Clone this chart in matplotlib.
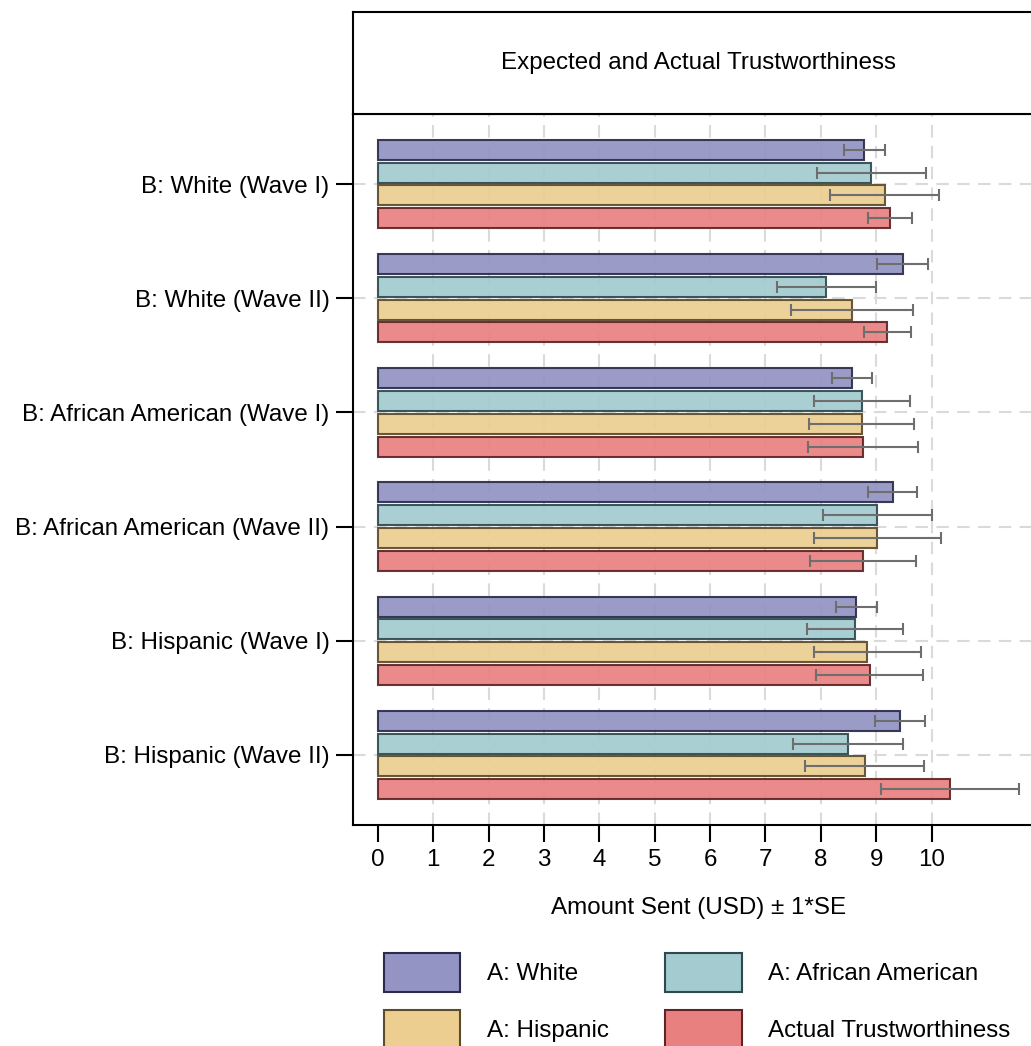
import matplotlib
matplotlib.use('Agg')
import matplotlib.pyplot as plt
import numpy as np
from matplotlib.patches import Patch

plt.rcParams['font.family'] = ['Liberation Sans', 'DejaVu Sans']

# Groups (receiver B) and series (sender A / actual)
groups = ["B: White (Wave I)", "B: White (Wave II)",
          "B: African American (Wave I)", "B: African American (Wave II)",
          "B: Hispanic (Wave I)", "B: Hispanic (Wave II)"]
series = ["A: White", "A: African American", "A: Hispanic", "Actual Trustworthiness"]

white_mean = [8.78, 9.48, 8.56, 9.30, 8.64, 9.43]
white_se = [0.37, 0.46, 0.36, 0.44, 0.37, 0.45]
afam_mean = [8.91, 8.10, 8.74, 9.02, 8.62, 8.49]
afam_se = [0.98, 0.90, 0.87, 0.99, 0.87, 1.00]
hisp_mean = [9.15, 8.56, 8.74, 9.02, 8.84, 8.79]
hisp_se = [0.98, 1.10, 0.95, 1.15, 0.96, 1.07]
actual_mean = [9.25, 9.20, 8.76, 8.76, 8.88, 10.33]
actual_se = [0.39, 0.42, 0.99, 0.96, 0.97, 1.25]

means = [white_mean, afam_mean, hisp_mean, actual_mean]
ses = [white_se, afam_se, hisp_se, actual_se]
fills = ['#9393C4', '#A3CBD0', '#EBCE90', '#E98080']
edges = ['#2B2B4B', '#2E4A4E', '#5C4C2C', '#5E2426']
offsets = [-0.3, -0.1, 0.1, 0.3]

FS = 17.4
W, H = 1031, 1046
fig = plt.figure(figsize=(W / 100, H / 100), dpi=100)

left, right = 353 / W, 1044 / W
ax = fig.add_axes([left, 1 - 825 / H, right - left, (825 - 114) / H])
tax = fig.add_axes([left, 1 - 114 / H, right - left, (114 - 12) / H])

y = np.arange(len(groups))
for i in range(4):
    ax.barh(y + offsets[i], means[i], height=0.175, color=fills[i],
            edgecolor=edges[i], linewidth=1.5, alpha=0.92, zorder=2)
    ax.errorbar(means[i], y + offsets[i], xerr=ses[i], fmt='none',
                ecolor='#6E6E6E', elinewidth=1.5, capsize=4.5, capthick=1.5,
                zorder=3)

ax.set_xlim(-0.45, 12.03)
ax.set_ylim(5.613, -0.613)
ax.set_xticks(range(11))
ax.set_yticks(y)
ax.set_yticklabels(groups)
ax.tick_params(axis='both', labelsize=FS, length=12, width=1.5, direction='out')
ax.tick_params(axis='x', pad=5)
ax.tick_params(axis='y', pad=5)

# dashed background grid
for xv in range(1, 11):
    ax.axvline(xv, color='#DADADA', linestyle=(0, (6, 4)), linewidth=1.5, zorder=1)
for yv in y:
    ax.axhline(yv, color='#DADADA', linestyle=(0, (6, 4)), linewidth=1.5, zorder=1)

for s in ['left', 'bottom', 'top']:
    ax.spines[s].set_linewidth(1.5)
ax.spines['right'].set_visible(False)
ax.set_xlabel('Amount Sent (USD) ± 1*SE', fontsize=FS, labelpad=19)

# title strip
tax.set_xticks([])
tax.set_yticks([])
for s in tax.spines.values():
    s.set_linewidth(1.5)
tax.text(0.5, 0.5, 'Expected and Actual Trustworthiness', fontsize=FS,
         ha='center', va='center', transform=tax.transAxes)

handles = [Patch(facecolor=fills[i], edgecolor=edges[i], linewidth=1.5,
                 label=series[i]) for i in [0, 2, 1, 3]]
fig.legend(handles=handles, ncol=2, loc='upper left',
           bbox_to_anchor=(384 / W, 1 - 953 / H), frameon=False,
           fontsize=FS, handlelength=3.15, handleheight=2.1,
           handletextpad=1.1, columnspacing=2.35, labelspacing=0.75,
           borderpad=0, borderaxespad=0)

fig.savefig('out.png', dpi=100)
